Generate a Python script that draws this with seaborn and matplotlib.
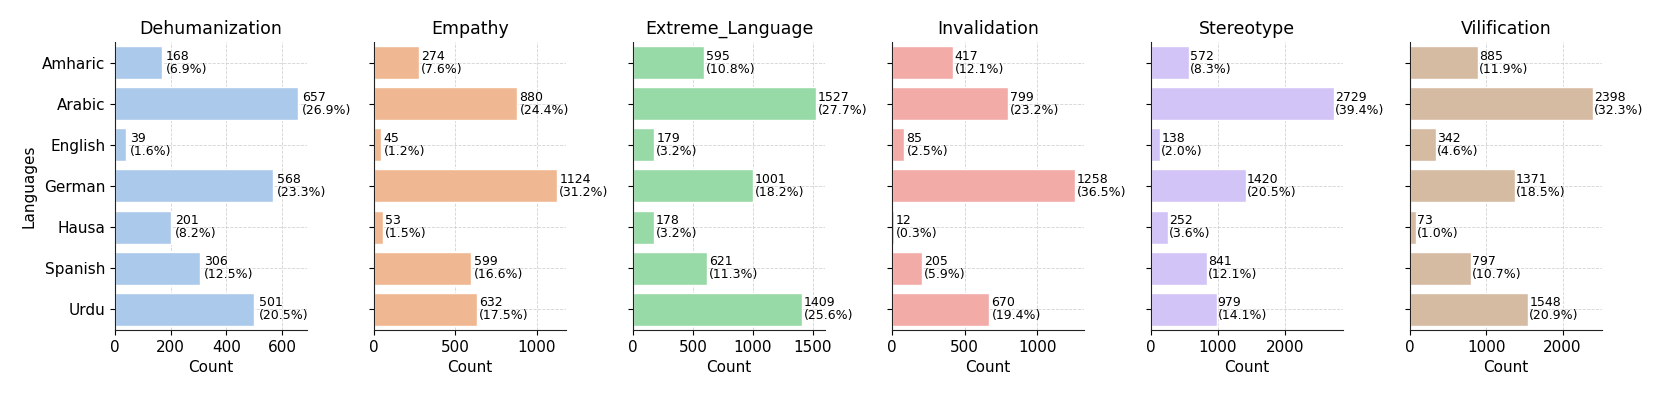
import matplotlib
matplotlib.use("Agg")
import matplotlib.pyplot as plt
import seaborn as sns
import pandas as pd

languages = ["Amharic", "Arabic", "English", "German", "Hausa", "Spanish", "Urdu"]
categories = ["Dehumanization", "Empathy", "Extreme_Language",
              "Invalidation", "Stereotype", "Vilification"]

dehumanization = [168, 657, 39, 568, 201, 306, 501]
empathy = [274, 880, 45, 1124, 53, 599, 632]
extreme_language = [595, 1527, 179, 1001, 178, 621, 1409]
invalidation = [417, 799, 85, 1258, 12, 205, 670]
stereotype = [572, 2729, 138, 1420, 252, 841, 979]
vilification = [885, 2398, 342, 1371, 73, 797, 1548]

series = [dehumanization, empathy, extreme_language,
          invalidation, stereotype, vilification]

sns.set_style("ticks")
plt.rcParams['font.family'] = ['DejaVu Sans']
plt.rcParams.update({
    "text.color": "black",
    "axes.labelcolor": "black",
    "xtick.color": "black",
    "ytick.color": "black",
    "axes.edgecolor": "#222222",
})
colors = sns.color_palette("pastel", 6)

fig, axes = plt.subplots(1, 6, figsize=(16.61, 3.96), dpi=100, sharey=True)
fig.subplots_adjust(left=0.0692, right=0.9645, top=0.894, bottom=0.167, wspace=0.349)

for i, (ax, cat, vals) in enumerate(zip(axes, categories, series)):
    df = pd.DataFrame({"Language": languages, "Count": vals})
    total = sum(vals)
    sns.barplot(data=df, x="Count", y="Language", color=colors[i],
                edgecolor="white", linewidth=1, ax=ax)
    # count + share of the category total next to each bar
    for j, v in enumerate(vals):
        ax.text(v + 15, j, f"{v}\n({v / total * 100:.1f}%)",
                va="center", ha="left", fontsize=9, linespacing=1.0)
    ax.set_xlim(0, max(vals) * 1.05)
    ax.set_title(cat, fontsize=12.5)
    ax.set_xlabel("Count", fontsize=11)
    ax.set_ylabel("Languages" if i == 0 else "", fontsize=11)
    ax.tick_params(labelsize=11)
    ax.grid(True, linestyle="--", color="#c8c8c8", linewidth=0.6, alpha=0.8)
    ax.set_axisbelow(True)
    sns.despine(ax=ax)

fig.savefig("out.png", dpi=100)
